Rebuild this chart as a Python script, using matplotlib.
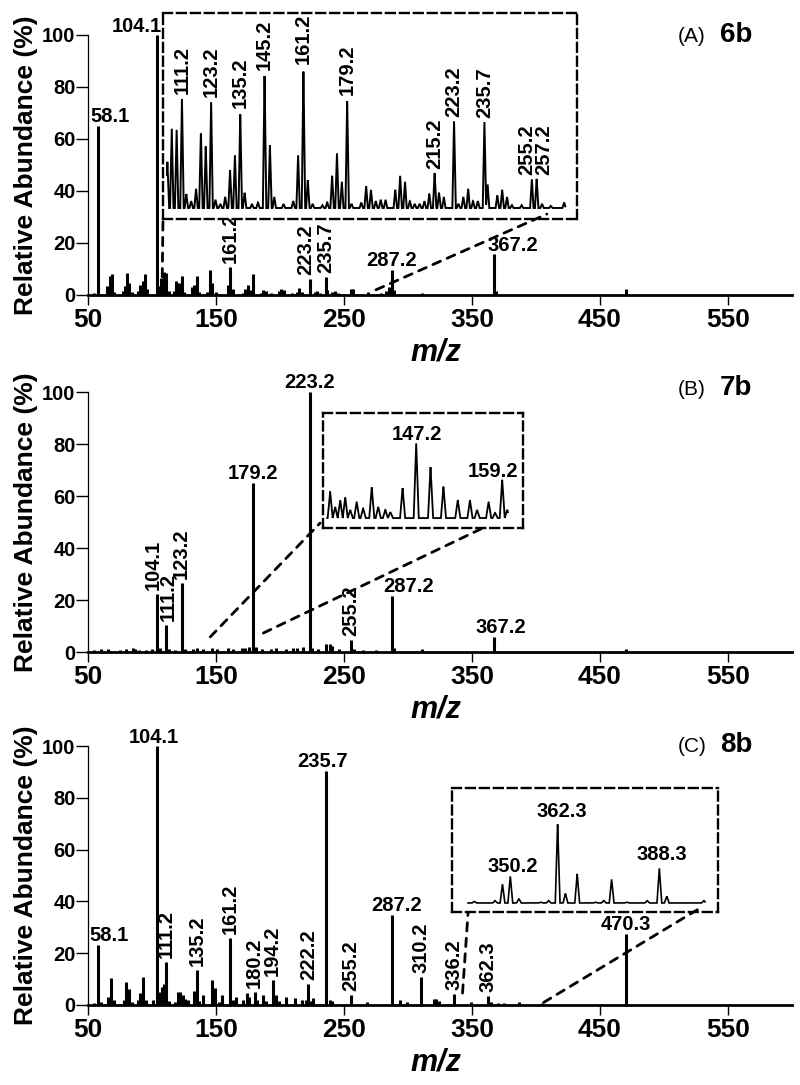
import numpy as np
import matplotlib.pyplot as plt
from matplotlib.patches import ConnectionPatch

plt.rcParams['font.family'] = ['Liberation Sans', 'DejaVu Sans']

# ---- spectrum data: m/z and relative abundance (%) ----
A_mz = [55.0, 58.1, 65.0, 67.0, 68.5, 70.0, 77.0, 79.0, 80.5, 82.0, 84.0, 89.0, 91.0, 93.0, 94.5, 96.0,
        104.1, 105.5, 107.0, 109.0, 111.2, 113.0, 117.0, 119.0, 121.0, 123.2, 125.0, 131.0, 133.0, 135.2,
        137.0, 143.0, 145.2, 147.0, 150.0, 159.0, 161.2, 163.0, 171.0, 173.0, 175.0, 177.0, 179.2, 185.0,
        187.0, 189.0, 193.0, 199.0, 201.0, 203.0, 209.0, 213.0, 215.2, 217.0, 223.2, 227.0, 229.0, 231.0,
        235.7, 237.0, 241.0, 243.0, 245.0, 255.2, 257.2, 269.0, 279.0, 283.0, 285.0, 287.2, 289.0, 311.0,
        367.2, 369.0, 470.2]
A_ab = [0.8, 65, 3.5, 7.5, 8, 1, 1.5, 3.5, 8.5, 4.5, 1, 1.5, 4, 5.5, 8, 2.5,
        100, 3.5, 6.5, 8.8, 8.5, 1.5, 1.5, 5.5, 4.8, 7.5, 1, 3, 4, 7.2,
        1.2, 1, 9.8, 4.8, 1, 4, 10.7, 2.2, 0.8, 2.5, 4, 2, 8.1, 0.8,
        1.8, 1.4, 0.8, 1.4, 2.4, 2, 0.6, 1.2, 2.6, 1.2, 6.3, 1, 1.5, 0.6,
        6.8, 1.8, 1, 1.4, 0.8, 2.2, 2.2, 1, 0.8, 1.5, 3, 9.5, 2, 0.8,
        15.7, 1.5, 2.5]

# zoomed region of A (relative units, tallest = ~100)
A_ins_mz = [105.2, 107, 109, 111.2, 113, 115, 117, 119, 121, 123.2, 125, 127, 129, 131, 133, 135.2, 137,
            140, 142.5, 145.2, 147.4, 149.2, 153, 157, 159, 161.2, 163, 165, 169, 171, 173, 175, 177, 179.2,
            181, 185, 187, 189, 191, 193, 195, 199, 201, 203, 205, 207, 209, 211, 213, 215.2, 217, 219,
            223.2, 225, 227, 229, 231, 233, 235.7, 237, 241, 243, 245, 247, 251, 255.2, 257.2, 259.4,
            263, 268.5]
A_ins_ab = [33, 57, 57, 78, 10, 5, 14, 54, 44, 76, 6, 3, 8, 27, 38, 68, 11,
            3, 4, 95, 45, 8, 3, 5, 38, 99, 20, 3, 2, 4, 23, 39, 19, 77,
            3, 4, 16, 13, 5, 6, 6, 13, 23, 19, 5, 3, 3, 5, 10, 25, 11, 8,
            62, 3, 8, 14, 5, 5, 61, 17, 9, 13, 8, 2, 2, 21, 21, 3,
            1.5, 4]

B_mz = [55, 60, 66, 75, 80, 85, 87, 90, 95, 100, 104.1, 106, 111.2, 113, 118, 123.2, 126, 132, 135,
        140, 147, 151, 159, 163, 170, 173, 176, 179.2, 181, 186, 193, 197, 205, 210, 213, 218, 223.2,
        225, 230, 236, 239, 241, 246, 255.2, 258, 265, 275, 287.2, 289, 311, 367.2, 470.2]
B_ab = [0.8, 1, 1, 0.8, 1, 1.5, 1.2, 0.8, 0.8, 1, 22.5, 1.5, 10.3, 1, 0.8, 26.4, 1, 1, 1.5,
        1, 1.5, 1, 1.5, 1, 1.5, 1.5, 2, 65, 2, 1, 1, 1.5, 1, 1.5, 1.5, 2, 100,
        1.5, 1, 3, 3, 2.5, 1, 4.5, 1, 0.6, 0.6, 21.5, 1.5, 1, 5.8, 1]

B_ins_mz = [135.2, 135.9, 136.6, 137.3, 138.0, 138.9, 139.8, 141.0, 141.9, 142.9, 143.6, 145.3, 147.2,
            149.2, 151.0, 153.0, 154.7, 155.7, 157.3, 158.2, 159.2, 159.9]
B_ins_ab = [35, 15, 24, 28, 11, 22, 13, 41, 15, 11, 8, 40, 100,
            68, 42, 24, 24, 11, 22, 7, 51, 11]

C_mz = [55, 58.1, 60, 66, 68, 70, 78, 80, 82, 84, 89, 91, 93, 95, 101, 104.1, 106, 107.5, 109, 111.2,
        113, 118, 120, 122, 124, 126, 128, 133, 135.2, 137, 140, 147, 149, 152, 155, 161.2, 163, 166,
        171, 174, 176, 180.2, 182, 187, 189, 194.2, 197, 199, 205, 212, 217, 220, 222.2, 224, 226,
        235.7, 239, 241, 255.2, 268, 287.2, 294, 299, 310.2, 320, 322, 324, 336.2, 349, 362.3, 365,
        370, 375, 386.5, 405, 470.3]
C_ab = [0.8, 23, 1, 3, 10.3, 2, 2, 9, 6, 1, 2, 4.5, 11, 2, 2, 100, 5, 7, 8, 16.5,
        1.5, 1, 5, 5, 4, 2.5, 2, 5.5, 13.5, 1.5, 3.9, 9.7, 6.4, 1, 3.9, 25.7, 2, 3.2,
        2, 4.8, 3, 5.2, 2, 3.9, 1.5, 9.8, 3.9, 1.5, 3.2, 2.6, 1.9, 2, 8, 1.5, 2.6,
        90.5, 2, 1.5, 3.9, 1, 34.7, 2, 1, 10.8, 2.2, 2.2, 1.5, 4.1, 1, 3.5, 1,
        0.8, 0.8, 1, 0.6, 27.3]

C_ins_mz = [341.0, 346.3, 348.2, 350.2, 352.4, 358.0, 360.0, 362.3, 364.3, 367.3, 372.0, 374.1, 376.1,
            380.0, 385.2, 388.3, 390.2, 399.7]
C_ins_ab = [2, 3, 24, 34, 5.5, 1, 3, 100, 12, 37, 1, 3, 30,
            1, 3, 44, 8.5, 3]

# labelled peaks
A_labels = ['58.1', '104.1', '161.2', '223.2', '235.7', '287.2', '367.2']
A_ins_labels = ['111.2', '123.2', '135.2', '145.2', '161.2', '179.2', '215.2', '223.2', '235.7',
                '255.2', '257.2']
B_labels = ['104.1', '111.2', '123.2', '179.2', '223.2', '255.2', '287.2', '367.2']
B_ins_labels = ['147.2', '159.2']
C_labels = ['58.1', '104.1', '111.2', '135.2', '161.2', '180.2', '194.2', '222.2', '235.7', '255.2',
            '287.2', '310.2', '336.2', '362.3', '470.3']
C_ins_labels = ['350.2', '362.3', '388.3']

W, H = 800, 1085
PX = 0.72  # points per pixel at 100 dpi
LABEL_SIZE = 14.5


def rect(x0, y0, x1, y1):
    return [x0 / W, 1 - y1 / H, (x1 - x0) / W, (y1 - y0) / H]


def profile(mz, ab, hw, lo, hi):
    x = np.linspace(lo, hi, 4000)
    y = np.zeros_like(x)
    for m, h in zip(mz, ab):
        y = np.maximum(y, h * np.clip(1 - np.abs(x - m) / hw, 0, None))
    return x, y


def label_peaks(ax, mz, ab, labels, flat, shift={}):
    mz = np.asarray(mz)
    for t in labels:
        i = int(np.argmin(np.abs(mz - float(t))))
        dx, dy = shift.get(t, (0, 4))
        if t in flat:
            ax.annotate(t, (mz[i], ab[i]), xytext=(dx * PX, dy * PX), textcoords='offset points',
                        ha='center', va='baseline', fontsize=LABEL_SIZE, fontweight='bold',
                        annotation_clip=False)
        else:
            ax.annotate(t, (mz[i], ab[i]), xytext=(dx * PX, dy * PX), textcoords='offset points',
                        ha='center', va='bottom', rotation=90, fontsize=LABEL_SIZE,
                        fontweight='bold', annotation_clip=False)


def main_axes(box, mz, ab):
    ax = fig.add_axes(rect(*box))
    ax.vlines(mz, 0, ab, color='black', lw=2.2)
    ax.set_xlim(50, 600)
    ax.set_ylim(0, 100)
    ax.spines['top'].set_visible(False)
    ax.spines['right'].set_visible(False)
    ax.spines['bottom'].set_linewidth(2.0)
    ax.spines['left'].set_linewidth(0.9)
    ax.set_xticks([50, 150, 250, 350, 450, 550])
    ax.set_yticks([0, 20, 40, 60, 80, 100])
    ax.tick_params(axis='x', direction='out', length=7, width=1, pad=2.5, labelsize=19)
    ax.tick_params(axis='y', direction='out', length=8.5, width=1, pad=0.5, labelsize=14.5)
    for lab in ax.get_xticklabels() + ax.get_yticklabels():
        lab.set_fontweight('bold')
    ax.text(-0.088, 0.5, 'Relative Abundance (%)', transform=ax.transAxes, rotation=90,
            ha='center', va='center', fontsize=19, fontweight='bold')
    ax.text(0.494, -0.223, 'm/z', transform=ax.transAxes, ha='center', va='center',
            fontsize=22, fontweight='bold', style='italic')
    return ax


def inset_axes(box, xlim, ylim, mz, ab, hw, lw):
    ins = fig.add_axes(rect(*box))
    x, y = profile(mz, ab, hw, xlim[2], xlim[3])
    ins.plot(x, y, color='black', lw=lw, solid_joinstyle='miter')
    ins.set_xlim(xlim[0], xlim[1])
    ins.set_ylim(*ylim)
    ins.set_xticks([])
    ins.set_yticks([])
    for s in ins.spines.values():
        s.set_linestyle((0, (3.8, 2.1)))
        s.set_linewidth(1.7)
    return ins


def connect(ax, ins, pa, pb):
    con = ConnectionPatch(xyA=pa, coordsA='data', axesA=ax, xyB=pb, coordsB='data', axesB=ins,
                          color='black', lw=2.0, linestyle=(0, (3, 2.6)))
    con.set_annotation_clip(False)
    fig.add_artist(con)


def panel_title(y, letter, name):
    fig.text(678 / W, 1 - y / H, '(%s)' % letter, fontsize=15, ha='left', va='baseline')
    fig.text(720 / W, 1 - y / H, name, fontsize=20, fontweight='bold', ha='left', va='baseline')


fig = plt.figure(figsize=(8, 10.85), dpi=100)

# ---- (A) 6b ----
axA = main_axes((88, 35, 792, 295), A_mz, A_ab)
label_peaks(axA, A_mz, A_ab, A_labels, {'58.1', '104.1', '287.2', '367.2'},
            {'58.1': (12, 4), '104.1': (-20, 3), '367.2': (19, 3), '223.2': (-4, 4), '287.2': (0, 4)})
insA = inset_axes((163, 13, 577, 219), (103.4, 273.8, 105, 269), (-7.8, 138.3),
                  A_ins_mz, A_ins_ab, 0.7, 1.4)
label_peaks(insA, A_ins_mz, A_ins_ab, A_ins_labels, set(),
            {'255.2': (-5, 3), '257.2': (7, 3)})
connect(axA, insA, (108, 7), (103.4, -7.8))
connect(axA, insA, (275, 2), (261.4, -4.3))
panel_title(42, 'A', '6b')

# ---- (B) 7b ----
axB = main_axes((88, 392, 792, 652), B_mz, B_ab)
label_peaks(axB, B_mz, B_ab, B_labels, {'179.2', '223.2', '287.2', '367.2'},
            {'104.1': (-4, 3), '111.2': (2, 4), '287.2': (17, 4), '367.2': (7, 4)})
insB = inset_axes((323, 413, 523, 528), (134.2, 162.1, 134.8, 160.0), (-13.3, 140),
                  B_ins_mz, B_ins_ab, 0.35, 1.3)
label_peaks(insB, B_ins_mz, B_ins_ab, B_ins_labels, {'147.2', '159.2'},
            {'147.2': (1, 3), '159.2': (-9, 3)})
connect(axB, insB, (145.5, 5.8), (133.8, -6.7))
connect(axB, insB, (187, 7.3), (156.5, -13.3))
panel_title(395, 'B', '7b')

# ---- (C) 8b ----
axC = main_axes((88, 746, 792, 1005), C_mz, C_ab)
label_peaks(axC, C_mz, C_ab, C_labels, {'58.1', '104.1', '235.7', '287.2', '470.3'},
            {'58.1': (11, 4), '104.1': (-3, 3), '235.7': (-3, 4), '287.2': (5, 4)})
insC = inset_axes((452, 788, 718, 912), (335.3, 403.3, 339.4, 400.0), (-11.4, 145.6),
                  C_ins_mz, C_ins_ab, 0.6, 1.2)
label_peaks(insC, C_ins_mz, C_ins_ab, C_ins_labels, {'350.2', '362.3', '388.3'},
            {'350.2': (2, 4), '362.3': (4, 7), '388.3': (2, 8)})
connect(axC, insC, (342.6, 4.6), (339.4, -12.7))
connect(axC, insC, (406, 1), (399.2, -5))
panel_title(752, 'C', '8b')

fig.savefig('out.png', dpi=100)
